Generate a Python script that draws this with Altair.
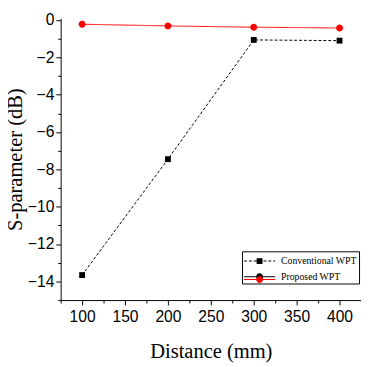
import altair as alt
import pandas as pd

distances = [100, 200, 300, 400]
conventional = [-13.66, -7.45, -1.06, -1.1]
proposed = [-0.22, -0.31, -0.38, -0.42]
series_names = ["Conventional WPT", "Proposed WPT"]
x_ticks = list(range(75, 426, 25))
y_ticks = list(range(-15, 1))

rows = []
for d, c, p in zip(distances, conventional, proposed):
    rows.append({"Distance": d, "S": c, "Series": series_names[0]})
    rows.append({"Distance": d, "S": p, "Series": series_names[1]})
df = pd.DataFrame(rows)

sans = "Liberation Sans Narrow, Liberation Sans, Arial"
serif = "Liberation Serif, Times New Roman"

x = alt.X(
    "Distance:Q",
    scale=alt.Scale(domain=[75, 425], nice=False, zero=False),
    axis=alt.Axis(
        values=x_ticks,
        labelExpr="datum.value % 50 === 0 && datum.value >= 100 && datum.value <= 400 ? datum.label : ''",
        tickSize={"condition": {"test": "datum.value % 50 === 0", "value": 5}, "value": 3},
        title="Distance (mm)",
        grid=False,
        labelFont=sans,
        labelFontSize=16,
        labelPadding=4,
        titleFont=serif,
        titleFontSize=21,
        titleFontWeight="normal",
        titlePadding=17,
    ),
)
y = alt.Y(
    "S:Q",
    scale=alt.Scale(domain=[-15, 0.1], nice=False, zero=False),
    axis=alt.Axis(
        values=y_ticks,
        labelExpr="datum.value % 2 === 0 ? datum.label : ''",
        tickSize={"condition": {"test": "datum.value % 2 === 0", "value": 5}, "value": 3},
        title="S-parameter (dB)",
        grid=False,
        labelFont=sans,
        labelFontSize=16,
        labelPadding=2,
        titleFont=serif,
        titleFontSize=21,
        titleFontWeight="normal",
        titlePadding=2,
    ),
)

color_scale = alt.Scale(domain=series_names, range=["black", "red"])
dash_scale = alt.Scale(domain=series_names, range=[[3, 2], [1, 0]])
marker_paths = ["M-0.375,-0.375H0.375V0.375H-0.375Z",
                "M0.44,0A0.44,0.44 0 1,1 -0.44,0A0.44,0.44 0 1,1 0.44,0Z"]


def seg_path(on, off, gap_half):
    # thin filled rectangles standing in for the legend's line sample
    parts = []
    pos = -2.0
    while pos < 2.0:
        a, b = pos, min(pos + on, 2.0)
        for lo, hi in ((a, min(b, -gap_half)), (max(a, gap_half), b)):
            if hi - lo > 0.01:
                parts.append(f"M{lo:.3f},-0.0625H{hi:.3f}V0.0625H{lo:.3f}Z")
        pos += on + off
    return "".join(parts)


legend_paths = [seg_path(0.375, 0.25, 0.375) + marker_paths[0],
                seg_path(4.0, 0.0, 0.44) + marker_paths[1]]

legend_common = dict(
    title=None,
    orient="none",
    legendX=186,
    labelFont=serif,
    labelFontSize=10,
    padding=2,
    symbolSize=256,
    symbolStrokeWidth=0,
    symbolOffset=8,
    labelOffset=14,
    rowPadding=3,
)

legend_main = alt.Legend(
    legendY=239,
    labelColor="black",
    strokeColor="black",
    fillColor="white",
    zindex=1,
    **legend_common,
)
# second, box-less legend that repaints the "Proposed WPT" sample in red
legend_red = alt.Legend(
    legendY=258,
    labelOpacity=0,
    zindex=2,
    **legend_common,
)

lines = alt.Chart(df).mark_line(strokeWidth=1).encode(
    x=x,
    y=y,
    color=alt.Color("Series:N", scale=color_scale, legend=None),
    strokeDash=alt.StrokeDash("Series:N", scale=dash_scale, legend=None),
)

points = alt.Chart(df).mark_point(filled=True, opacity=1, size=256).encode(
    x=x,
    y=y,
    color=alt.Color("Series:N", scale=color_scale, legend=None),
    shape=alt.Shape("Series:N", scale=alt.Scale(domain=series_names, range=marker_paths), legend=None),
)

# layers that draw nothing (all rows filtered out); they only carry the legend
legend_layer = alt.Chart(df).mark_point(filled=True, opacity=1, size=256).encode(
    x=x,
    y=y,
    color=alt.Color("Series:N", scale=color_scale, legend=legend_main),
    shape=alt.Shape("Series:N", scale=alt.Scale(domain=series_names, range=legend_paths), legend=legend_main),
).transform_filter("false")

legend_layer_red = alt.Chart(df).mark_point(filled=True, opacity=1, size=256, color="red").encode(
    x=x,
    y=y,
    shape=alt.Shape("Series:N", scale=alt.Scale(domain=[series_names[1]], range=[legend_paths[1]]), legend=legend_red),
).transform_filter("false")

chart = (
    alt.layer(lines, points, legend_layer, legend_layer_red)
    .resolve_scale(shape="independent")
    .properties(
        width=308,
        height=289,
        autosize=alt.AutoSizeParams(type="none"),
        padding={"left": 54, "top": 6, "right": 0, "bottom": 60},
    )
    .configure_view(stroke=None)
    .configure_axis(domainColor="black", tickColor="black", labelColor="black", titleColor="black")
)

chart.save("out.html", embed_options={"renderer": "svg", "actions": False})
